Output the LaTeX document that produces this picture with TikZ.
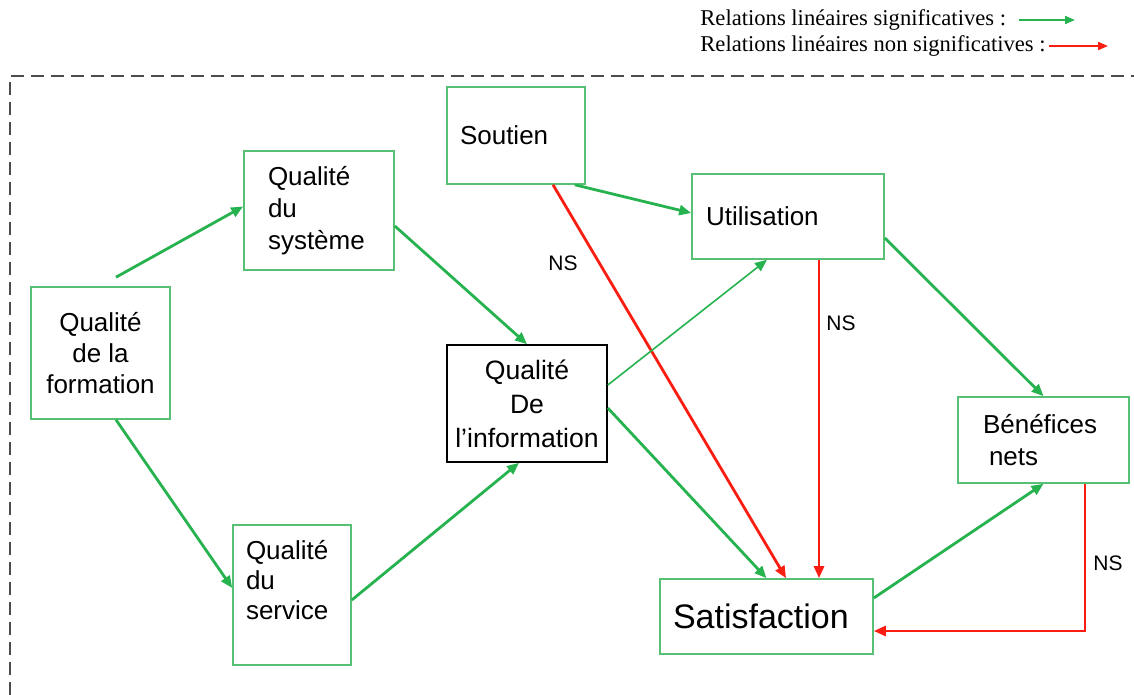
\documentclass[tikz,border=0pt]{standalone}
\usepackage{fontspec}
\setmainfont{Liberation Sans}
\newfontfamily\legendfont{Liberation Serif}
\usepackage{tikz}
\usetikzlibrary{positioning,arrows.meta}
\definecolor{sigGreen}{RGB}{38,178,78}
\definecolor{boxGreen}{RGB}{88,192,116}
\definecolor{nsRed}{RGB}{250,30,18}

\begin{document}
\begin{tikzpicture}[x=0.5pt,y=-0.5pt,
    factor/.style={rectangle, draw=boxGreen, line width=0.8pt, inner sep=0pt,
        align=left, font=\fontsize{13}{15.5}\selectfont},
    sig/.style={draw=sigGreen, line width=1.4pt, -{Triangle[length=6pt,width=5pt]}},
    nonsig/.style={draw=nsRed, line width=1.4pt, -{Triangle[length=6pt,width=5pt]}},
    note/.style={font=\fontsize{10.5}{12}\selectfont},
    legend/.style={font=\legendfont\fontsize{11.3}{13}\selectfont, anchor=west, inner sep=0pt}
]
\useasboundingbox (0,0) rectangle (1134,695);

% cadre
\draw[dash pattern=on 6.5pt off 3.5pt, line width=0.9pt, draw=black!70] (10,695) -- (10,76) -- (1134,76);

% legende
\node (LegSig) [legend] at (700,20) {Relations linéaires significatives :};
\node (LegNonSig) [legend] at (700,46) {Relations linéaires non significatives :};
\coordinate (LegSigEnd) at (1075,20);
\coordinate (LegNonSigEnd) at (1108,46);
\draw[sig, line width=1pt, -{Triangle[length=5pt,width=4pt]}] ([xshift=6.5pt]LegSig.east) -- (LegSig.east -| LegSigEnd);
\draw[nonsig, line width=1pt, -{Triangle[length=5pt,width=4pt]}] ([xshift=1.5pt]LegNonSig.east) -- (LegNonSig.east -| LegNonSigEnd);

% facteurs
\node (QualForm) [factor, align=center, minimum width=69.5pt, minimum height=66pt] at (100.5,353) {Qualité\\de la\\formation};
\node (QualSys) [factor, text width=51pt, minimum width=75pt, minimum height=59.5pt,
    font=\fontsize{13}{16}\selectfont] at (319,210.5) {Qualité\\du\\système};
\node (QualServ) [factor, text width=46pt, minimum width=59pt, minimum height=70pt,
    font=\fontsize{13}{15}\selectfont] at (292,595) {Qualité\\du\\service\\\mbox{}};
\node (Soutien) [factor, text width=56pt, minimum width=69pt, minimum height=48.5pt] at (516,135.5) {Soutien};
\node (QualInfo) [factor, draw=black, align=center, minimum width=80pt, minimum height=58.5pt,
    font=\fontsize{13.3}{17}\selectfont] at (527,403.5) {Qualité\\De\\l'information};
\node (Utilisation) [factor, text width=82pt, minimum width=96pt, minimum height=42.5pt] at (788,216.5) {Utilisation};
\node (Benefices) [factor, text width=60.5pt, minimum width=85.5pt, minimum height=43pt,
    font=\fontsize{13}{16}\selectfont] at (1043.5,440) {Bénéfices\\\hspace*{3pt}nets};
\node (Satisfaction) [factor, text width=93.5pt, minimum width=106.5pt, minimum height=37.5pt,
    font=\fontsize{17}{20}\selectfont] at (766.5,616.5) {Satisfaction};

% relations
\draw[sig] ([xshift=7.75pt,yshift=4.5pt]QualForm.north) -- ([yshift=2pt]QualSys.west);
\draw[sig] ([xshift=7.75pt]QualForm.south) -- ([yshift=3.5pt]QualServ.west);
\draw[sig] ([yshift=-7.75pt]QualSys.east) -- (QualInfo.north);
\draw[sig] ([yshift=-2.5pt]QualServ.east) -- ([xshift=-4pt]QualInfo.south);
\draw[sig] ([xshift=-5.5pt]Soutien.south east) -- ([yshift=1.75pt]Utilisation.west);
\draw[nonsig] ([xshift=18.5pt]Soutien.south) -- ([xshift=9.75pt]Satisfaction.north);
\draw[sig, line width=0.8pt] ([yshift=9.25pt]QualInfo.east) -- ([xshift=-10.5pt]Utilisation.south);
\draw[sig] ([yshift=-2.25pt]QualInfo.east) -- (Satisfaction.north);
\draw[nonsig] ([xshift=15.5pt]Utilisation.south) -- ([xshift=26.25pt]Satisfaction.north);
\draw[sig] ([yshift=-10.75pt]Utilisation.east) -- (Benefices.north);
\draw[sig] ([yshift=9.25pt]Satisfaction.east) -- (Benefices.south);
\draw[nonsig] ([xshift=20.75pt]Benefices.south) |- ([yshift=-7.25pt]Satisfaction.east);

\node (NsSoutien) [note] at (563,263) {NS};
\node (NsUtil) [note] at (841,323) {NS};
\node (NsBenef) [note] at (1108,563) {NS};
\end{tikzpicture}
\end{document}
